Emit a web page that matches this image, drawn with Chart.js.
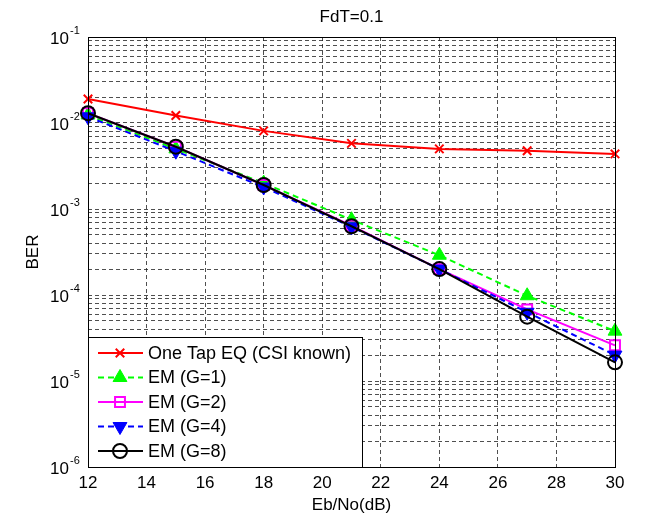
<!DOCTYPE html>
<html>
<head>
<meta charset="utf-8">
<script src="https://cdn.jsdelivr.net/npm/chart.js@4/dist/chart.umd.min.js"></script>
<style>
  html, body { margin: 0; padding: 0; background: #fff; }
  #wrap { width: 666px; height: 518px; position: relative; }
</style>
</head>
<body>
<div id="wrap"><canvas id="c"></canvas></div>
<script>
'use strict';

// Eb/No (dB)
const ebno = [12, 15, 18, 21, 24, 27, 30];

// BER per curve
const oneTapEq = [0.0190, 0.0122, 0.0081, 0.0058, 0.0050, 0.00476, 0.00437];
const emG1 = [0.0124, 0.0050, 0.0020, 0.00075, 0.00029, 0.000098, 0.000038];
const emG2 = [0.0130, 0.0053, 0.0019, 0.00064, 0.00020, 0.000068, 0.000026];
const emG4 = [0.0118, 0.0047, 0.0018, 0.00062, 0.00020, 0.000063, 0.000020];
const emG8 = [0.0130, 0.0053, 0.0019, 0.00063, 0.00020, 0.000056, 0.0000165];

// decade exponents shown on the y axis
const yExponents = [-1, -2, -3, -4, -5, -6];

const FONT = '"Liberation Sans", Arial, sans-serif';

function pts (ys)
{
    return ebno.map((x, i) => ({x, y: ys[i]}));
}

const datasets = [
    {label: 'One Tap EQ (CSI known)', data: pts(oneTapEq), borderColor: '#ff0000',
     pointStyle: 'crossRot', pointRadius: 6, pointBorderWidth: 2, pointBackgroundColor: '#ff0000',
     borderDash: [], order: 5},
    {label: 'EM (G=1)', data: pts(emG1), borderColor: '#00ff00',
     pointStyle: 'triangle', pointRadius: 8, pointBorderWidth: 1, pointBackgroundColor: '#00ff00',
     borderDash: [6, 4], order: 4},
    {label: 'EM (G=2)', data: pts(emG2), borderColor: '#ff00ff',
     pointStyle: 'rect', pointRadius: 7, pointBorderWidth: 2, pointBackgroundColor: 'rgba(0,0,0,0)',
     borderDash: [], order: 3},
    {label: 'EM (G=4)', data: pts(emG4), borderColor: '#0000ff',
     pointStyle: 'triangle', pointRotation: 180, pointRadius: 8, pointBorderWidth: 1, pointBackgroundColor: '#0000ff',
     borderDash: [6, 4], order: 2},
    {label: 'EM (G=8)', data: pts(emG8), borderColor: '#000000',
     pointStyle: 'circle', pointRadius: 7, pointBorderWidth: 2, pointBackgroundColor: 'rgba(0,0,0,0)',
     borderDash: [], order: 1}
];
datasets.forEach((d) =>
{
    d.borderWidth = 2;
    d.pointBorderColor = d.borderColor;
    d.fill = false;
    d.tension = 0;
    d.clip = false;
});

// frame, title, y labels, axis titles and the legend box
const decorations = {
    id: 'decorations',
    afterDraw (chart)
    {
        const ctx = chart.ctx;
        const a = chart.chartArea;
        const y = chart.scales.y;
        ctx.save();

        ctx.strokeStyle = '#000';
        ctx.lineWidth = 1;
        ctx.setLineDash([]);
        ctx.strokeRect(a.left + 0.5, a.top + 0.5, a.right - a.left, a.bottom - a.top);

        ctx.fillStyle = '#000';
        ctx.textAlign = 'center';
        ctx.textBaseline = 'middle';
        ctx.font = '17px ' + FONT;
        ctx.fillText('FdT=0.1', (a.left + a.right) / 2, 17);

        ctx.font = '17px ' + FONT;
        ctx.fillText('Eb/No(dB)', (a.left + a.right) / 2, 505);

        ctx.save();
        ctx.translate(33, (a.top + a.bottom) / 2);
        ctx.rotate(-Math.PI / 2);
        ctx.fillText('BER', 0, 0);
        ctx.restore();

        for (const e of yExponents)
        {
            const py = y.getPixelForValue(Math.pow(10, e));
            ctx.font = '17px ' + FONT;
            ctx.textAlign = 'right';
            ctx.fillText('10', 69, py + 2);
            ctx.font = '11px ' + FONT;
            ctx.textAlign = 'left';
            ctx.fillText(String(e), 70, py - 6);
        }

        // legend
        const lx = a.left, ly = 337, lw = 274, lh = a.bottom - ly;
        ctx.fillStyle = '#fff';
        ctx.fillRect(lx, ly, lw, lh);
        ctx.strokeStyle = '#000';
        ctx.lineWidth = 1;
        ctx.strokeRect(lx + 0.5, ly + 0.5, lw, lh);
        chart.data.datasets.forEach((d, i) =>
        {
            const ry = 353 + i * 24.5;
            ctx.strokeStyle = d.borderColor;
            ctx.lineWidth = 2;
            ctx.setLineDash(d.borderDash);
            ctx.beginPath();
            ctx.moveTo(lx + 10, ry);
            ctx.lineTo(lx + 55, ry);
            ctx.stroke();
            ctx.setLineDash([]);
            ctx.fillStyle = d.pointBackgroundColor;
            ctx.lineWidth = d.pointBorderWidth;
            Chart.helpers.drawPoint(ctx, {
                pointStyle: d.pointStyle,
                radius: d.pointRadius,
                rotation: d.pointRotation || 0,
                borderWidth: d.pointBorderWidth
            }, lx + 32, ry);
            ctx.fillStyle = '#000';
            ctx.font = '18px ' + FONT;
            ctx.textAlign = 'left';
            ctx.textBaseline = 'middle';
            ctx.fillText(d.label, lx + 60, ry + 1);
        });
        ctx.restore();
    }
};

new Chart(document.getElementById('c'), {
    type: 'line',
    data: {datasets},
    options: {
        responsive: true,
        maintainAspectRatio: false,
        animation: false,
        layout: {padding: {top: 37, right: 51, left: 0, bottom: 0}},
        plugins: {legend: {display: false}, title: {display: false}, tooltip: {enabled: false}},
        scales: {
            x: {
                type: 'linear',
                min: 12,
                max: 30,
                ticks: {stepSize: 2, color: '#000', font: {size: 17, family: FONT}, padding: 6, maxRotation: 0},
                grid: {color: '#222', lineWidth: 0.8, drawTicks: false},
                border: {display: false, dash: [4, 3]},
                afterFit: (s) => { s.height = 51; }
            },
            y: {
                type: 'logarithmic',
                min: 1e-6,
                max: 1e-1,
                afterBuildTicks: (s) =>
                {
                    const t = [];
                    for (let e = -6; e < -1; e++)
                    {
                        for (let m = 1; m < 10; m++)
                        {
                            t.push({value: m * Math.pow(10, e)});
                        }
                    }
                    t.push({value: 0.1});
                    s.ticks = t;
                },
                ticks: {autoSkip: false, callback: () => '', display: true},
                grid: {color: '#222', lineWidth: 0.8, drawTicks: false},
                border: {display: false, dash: [4, 3]},
                afterFit: (s) => { s.width = 88; }
            }
        }
    },
    plugins: [decorations]
});
</script>
</body>
</html>
